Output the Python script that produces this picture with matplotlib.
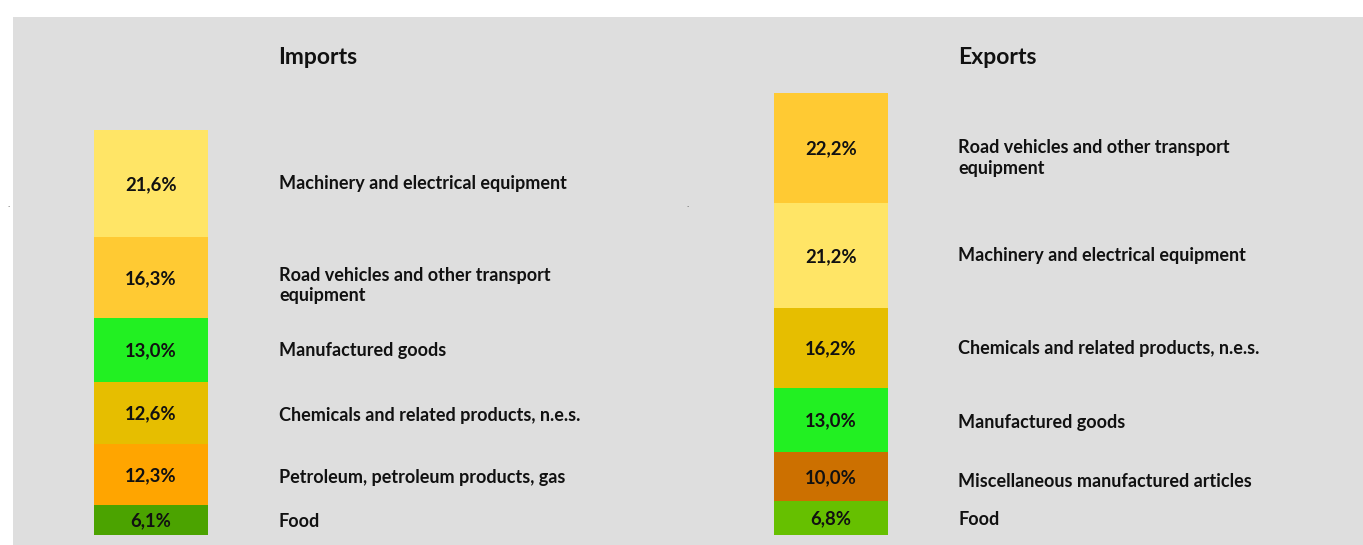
import matplotlib
matplotlib.use("Agg")
import matplotlib.pyplot as plt

# Parts du commerce exterieur (%), du bas vers le haut
import_labels = ["Food", "Petroleum, petroleum products, gas",
                 "Chemicals and related products, n.e.s.", "Manufactured goods",
                 "Road vehicles and other transport\nequipment",
                 "Machinery and electrical equipment"]
import_values = [6.1, 12.3, 12.6, 13.0, 16.3, 21.6]
import_colors = ["#4BA300", "#FFA500", "#E6BE00", "#22F022", "#FFCA33", "#FFE566"]

export_labels = ["Food", "Miscellaneous manufactured articles", "Manufactured goods",
                 "Chemicals and related products, n.e.s.",
                 "Machinery and electrical equipment",
                 "Road vehicles and other transport\nequipment"]
export_values = [6.8, 10.0, 13.0, 16.2, 21.2, 22.2]
export_colors = ["#66C000", "#CC7000", "#22F022", "#E6BE00", "#FFE566", "#FFCA33"]

W, H = 1363, 545
BG = "#DEDEDE"
FONT = "Lato"

fig = plt.figure(figsize=(W / 100, H / 100), dpi=100)
fig.patch.set_facecolor("white")
ax = fig.add_axes([13 / W, 0, (W - 13) / W, (H - 17) / H])
ax.set_facecolor(BG)

# 1 unite = 4.94 px, base des barres a y=535 px
scale = 4.94
ax.set_xlim(13, W)
ax.set_ylim(-(H - 535) / scale, (535 - 17) / scale)
ax.set_xticks([])
ax.set_yticks([])
for s in ax.spines.values():
    s.set_visible(False)


def px(y):
    return (535 - y) / scale


def draw_stack(xc, values, colors, labels, xlab, nudges):
    bottom = 0
    for v, c, lab, dn in zip(values, colors, labels, nudges):
        ax.bar(xc, v, width=114, bottom=bottom, color=c, linewidth=0)
        mid = bottom + v / 2
        ax.text(xc, mid - 0.2, f"{v:.1f}%".replace(".", ","), ha="center", va="center",
                fontsize=13.3, fontweight="bold", family=FONT, color="#111111")
        ax.text(xlab, mid + dn, lab, ha="left", va="center", fontsize=13,
                fontweight="bold", family=FONT, color="#111111", linespacing=1.25)
        bottom += v


draw_stack(151, import_values, import_colors, import_labels, 279,
           [-0.3, -0.6, -0.6, -0.2, -1.6, 0.0])
draw_stack(831, export_values, export_colors, export_labels, 958,
           [-0.2, -1.0, -0.6, -0.2, 0.0, -2.0])

ax.text(278, px(57), "Imports", ha="left", va="center", fontsize=16.5,
        fontweight="bold", family=FONT, color="#111111")
ax.text(958, px(57), "Exports", ha="left", va="center", fontsize=16.5,
        fontweight="bold", family=FONT, color="#111111")

# petits reperes residuels
fig.text(8 / W, 1 - 207 / H, "·", fontsize=5, ha="center", va="center", color="#333333")
fig.text(687 / W, 1 - 207 / H, "·", fontsize=5, ha="center", va="center", color="#333333")

fig.savefig("out.png", dpi=100, facecolor="white")
